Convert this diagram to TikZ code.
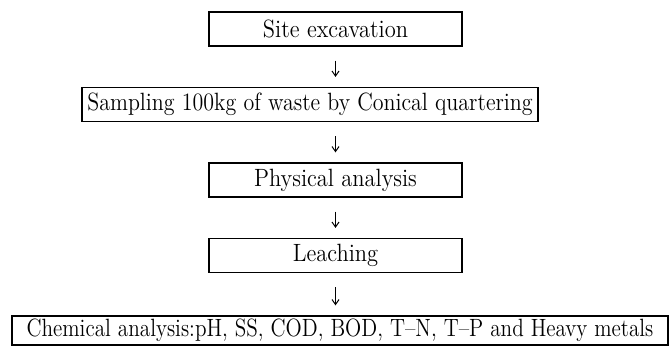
\documentclass[tikz,border=0pt]{standalone}
\usepackage{graphicx}
\usepackage{tikz}
\usetikzlibrary{arrows.meta}

\newcommand{\narrowtext}[2][0.9]{\scalebox{#1}[1]{#2}}

\begin{document}
\begin{tikzpicture}[
		x=0.5pt, y=-0.5pt,
		stage/.style={draw, line width=0.6pt, inner sep=0pt, minimum height=17pt,
			font=\fontsize{12.5}{14}\selectfont},
		flow/.style={-{Straight Barb[length=2.5pt,width=3.5pt]}, line width=0.5pt,
			shorten <=7pt, shorten >=5pt}
		]
	
		\useasboundingbox (0,0) rectangle (669,346);
	
		% --- Etapes ---
		\node[stage, minimum width=126.5pt] (site) at (335.5,29) {\narrowtext{Site excavation}};
		\node[stage, minimum width=228pt] (sample) at (310,104.5) {\narrowtext[0.88]{Sampling 100kg of waste by Conical quartering}};
		\node[stage, minimum width=126.5pt] (phys) at (335.5,180) {\narrowtext{Physical analysis}};
		\node[stage, minimum width=126.5pt] (leach) at (335.5,255.5) {\narrowtext{Leaching}};
		\node[stage, minimum width=328pt, minimum height=14.5pt] (chem) at (340,330.5) {\narrowtext[0.85]{Chemical analysis:pH, SS, COD, BOD, T--N, T--P and Heavy metals}};
	
		% --- Fleches ---
		\draw[flow] (site.south) -- (site.south |- sample.north);
		\draw[flow] (phys.north |- sample.south) -- (phys.north);
		\draw[flow] (phys.south) -- (leach.north);
		\draw[flow] (leach.south) -- (leach.south |- chem.north);
	
	\end{tikzpicture}
\end{document}
